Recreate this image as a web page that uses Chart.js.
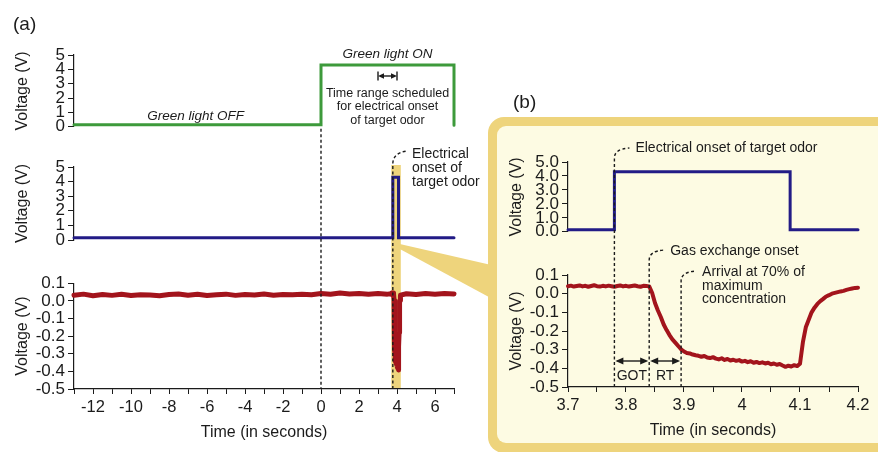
<!DOCTYPE html>
<html>
<head>
<meta charset="utf-8">
<script src="https://cdn.jsdelivr.net/npm/chart.js@4/dist/chart.umd.min.js"></script>
<style>
  body { margin: 0; background: #fff; }
  #wrap { position: relative; width: 878px; height: 452px; overflow: hidden; }
  canvas { position: absolute; }
</style>
</head>
<body>
<div id="wrap">
  <canvas id="bg" width="878" height="452" style="left:0;top:0"></canvas>
  <canvas id="cGreen" width="470" height="100" style="left:0;top:40px"></canvas>
  <canvas id="cOdor" width="470" height="130" style="left:0;top:140px"></canvas>
  <canvas id="cTrace" width="470" height="182" style="left:0;top:270px"></canvas>
  <canvas id="cZoomOdor" width="378" height="120" style="left:500px;top:125px"></canvas>
  <canvas id="cZoomTrace" width="378" height="207" style="left:500px;top:245px"></canvas>
  <canvas id="fg" width="878" height="452" style="left:0;top:0"></canvas>
</div>
<script>
// green light control signal (panel a, top)
const greenTime = [-13, 0, 0, 7, 7];
const greenVolt = [0.15, 0.15, 4.3, 4.3, 0.1];

// odor valve signal (panel a, middle)
const odorTime = [-13, 3.78, 3.78, 4.08, 4.08, 7];
const odorVolt = [0.15, 0.15, 4.3, 4.3, 0.15, 0.15];

// odor valve signal, zoomed (panel b, top)
const zoomOdorTime = [3.7, 3.78, 3.78, 4.083, 4.083, 4.2];
const zoomOdorVolt = [0.15, 0.15, 4.3, 4.3, 0.15, 0.15];

// sensor trace, zoomed window 3.7 - 4.2 s (panel b, bottom)
const zoomTime = [
  3.700, 3.705, 3.710, 3.715, 3.720, 3.725, 3.730, 3.735, 3.740, 3.745,
  3.750, 3.755, 3.760, 3.765, 3.770, 3.775, 3.780, 3.785, 3.790, 3.795,
  3.800, 3.805, 3.810, 3.815, 3.820, 3.825, 3.830, 3.835, 3.840, 3.845,
  3.850, 3.855, 3.860, 3.865, 3.870, 3.875, 3.880, 3.885, 3.890, 3.895,
  3.900, 3.905, 3.910, 3.915, 3.920, 3.925, 3.930, 3.935, 3.940, 3.945,
  3.950, 3.955, 3.960, 3.965, 3.970, 3.975, 3.980, 3.985, 3.990, 3.995,
  4.000, 4.005, 4.010, 4.015, 4.020, 4.025, 4.030, 4.035, 4.040, 4.045,
  4.050, 4.055, 4.060, 4.065, 4.070, 4.075, 4.080, 4.085, 4.090, 4.095,
  4.100, 4.105, 4.110, 4.115, 4.120, 4.125, 4.130, 4.135, 4.140, 4.145,
  4.150, 4.155, 4.160, 4.165, 4.170, 4.175, 4.180, 4.185, 4.190, 4.195,
  4.200
];
const zoomVolt = [
  0.040, 0.043, 0.038, 0.041, 0.044, 0.039, 0.042, 0.037, 0.041, 0.045,
  0.040, 0.038, 0.042, 0.039, 0.043, 0.040, 0.037, 0.041, 0.044, 0.039,
  0.042, 0.038, 0.041, 0.044, 0.040, 0.037, 0.042, 0.041, 0.039, 0.005,
  -0.050, -0.090, -0.125, -0.165, -0.195, -0.222, -0.245, -0.262, -0.280, -0.298,
  -0.310, -0.318, -0.320, -0.326, -0.330, -0.333, -0.338, -0.334, -0.342, -0.345,
  -0.340, -0.348, -0.352, -0.346, -0.355, -0.350, -0.358, -0.354, -0.360, -0.356,
  -0.364, -0.360, -0.367, -0.362, -0.370, -0.366, -0.372, -0.368, -0.374, -0.370,
  -0.378, -0.374, -0.381, -0.377, -0.385, -0.392, -0.386, -0.390, -0.383, -0.388,
  -0.375, -0.260, -0.180, -0.140, -0.100, -0.075, -0.055, -0.040, -0.028, -0.015,
  -0.008, 0.000, 0.004, 0.008, 0.012, 0.015, 0.020, 0.024, 0.028, 0.031,
  0.032
];

// sensor trace outside the zoom window (panel a, bottom)
const traceTimeBefore = [-13, -12.5, -12, -11.5, -11, -10.5, -10, -9.5, -9, -8.5, -8, -7.5,
  -7, -6.5, -6, -5.5, -5, -4.5, -4, -3.5, -3, -2.5, -2, -1.5, -1, -0.5, 0, 0.5, 1, 1.5,
  2, 2.5, 3, 3.5];
const traceVoltBefore = [0.032, 0.038, 0.029, 0.036, 0.031, 0.037, 0.030, 0.035, 0.033, 0.029,
  0.036, 0.039, 0.032, 0.037, 0.030, 0.034, 0.038, 0.031, 0.036, 0.033, 0.039, 0.032, 0.036,
  0.034, 0.038, 0.035, 0.041, 0.037, 0.044, 0.039, 0.042, 0.037, 0.041, 0.038];
const traceTimeAfter = [4.5, 5, 5.5, 6, 6.5, 7];
const traceVoltAfter = [0.040, 0.036, 0.041, 0.038, 0.042, 0.039];

// marker times
const lightOnTime = 0;
const scheduleRange = [3, 4];
const onsetTime = 3.78;
const gasOnsetTime = 3.84;
const arrivalTime = 3.895;
const zoomStart = 3.7, zoomEnd = 4.2;

const ink = '#1b1b1b';
const green = '#3d9a3b';
const navy = '#221b86';
const red = '#a3141c';
const gold = '#eed47c';
const cream = '#fdfbe3';
const font = '"Liberation Sans", Arial, sans-serif';

Chart.defaults.font.family = font;
Chart.defaults.color = ink;

function pairs(xs, ys) {
  return xs.map((x, i) => ({ x: x, y: ys[i] }));
}

function fmt1(v) {
  return (Math.abs(v) < 1e-9 ? 0 : v).toFixed(1);
}

function yAxis(min, max, step, format, width, titlePad) {
  return {
    type: 'linear', min: min, max: max,
    ticks: { stepSize: step, autoSkip: false, font: { size: 17 }, padding: 3, callback: format },
    grid: { drawOnChartArea: false, drawTicks: true, tickLength: 6, color: ink, lineWidth: 1 },
    border: { display: true, color: ink, width: 1.2 },
    title: { display: true, text: 'Voltage (V)', font: { size: 16 }, padding: { top: titlePad, bottom: 0 } },
    afterFit: s => { s.width = width; }
  };
}

function xAxis(min, max, step, format, show) {
  if (!show) return { type: 'linear', min: min, max: max, display: false };
  return {
    type: 'linear', min: min, max: max,
    ticks: { stepSize: step, autoSkip: false, maxRotation: 0, font: { size: 16.5 }, padding: 4, callback: format },
    grid: { drawOnChartArea: false, drawTicks: true, tickLength: 5, color: ink, lineWidth: 1 },
    border: { display: true, color: ink, width: 1.2 },
    title: { display: true, text: 'Time (in seconds)', font: { size: 16 }, padding: { top: 0, bottom: 2 } },
    afterFit: s => { s.height = 55; }
  };
}

function makeChart(id, data, color, width, join, x, y, padding) {
  return new Chart(document.getElementById(id), {
    type: 'line',
    data: {
      datasets: [{
        data: data,
        borderColor: color,
        borderWidth: width,
        pointRadius: 0,
        tension: 0,
        borderJoinStyle: join,
        borderCapStyle: 'round',
        clip: 8
      }]
    },
    options: {
      responsive: false,
      animation: false,
      events: [],
      layout: { padding: padding },
      plugins: { legend: { display: false }, tooltip: { enabled: false } },
      scales: { x: x, y: y }
    }
  });
}

const greenChart = makeChart('cGreen', pairs(greenTime, greenVolt), green, 3, 'miter',
  xAxis(-13, 7, 1, null, false),
  yAxis(0, 5, 1, v => String(v), 74, 13),
  { top: 15, bottom: 12, left: 0, right: 16 });

const odorChart = makeChart('cOdor', pairs(odorTime, odorVolt), navy, 3, 'miter',
  xAxis(-13, 7, 1, null, false),
  yAxis(0, 5, 1, v => String(v), 74, 13),
  { top: 27, bottom: 30, left: 0, right: 16 });

const fullTime = traceTimeBefore.concat(zoomTime, traceTimeAfter);
const fullVolt = traceVoltBefore.concat(zoomVolt, traceVoltAfter);
const traceChart = makeChart('cTrace', pairs(fullTime, fullVolt), red, 5, 'round',
  xAxis(-13, 7, 1, v => (v % 2 === 0 ? String(v) : ''), true),
  yAxis(-0.5, 0.1, 0.1, fmt1, 74, 13),
  { top: 10, bottom: 8, left: 0, right: 16 });

const zoomOdorChart = makeChart('cZoomOdor', pairs(zoomOdorTime, zoomOdorVolt), navy, 3, 'miter',
  xAxis(zoomStart, zoomEnd, 0.05, null, false),
  yAxis(0, 5, 1, fmt1, 68, 7),
  { top: 37, bottom: 10, left: 0, right: 20 });

const zoomTraceChart = makeChart('cZoomTrace', pairs(zoomTime, zoomVolt), red, 4, 'round',
  xAxis(zoomStart, zoomEnd, 0.05,
    v => (Math.abs(v * 10 - Math.round(v * 10)) < 1e-6 ? String(+v.toFixed(1)) : ''), true),
  yAxis(-0.5, 0.1, 0.1, fmt1, 68, 7),
  { top: 30, bottom: 10, left: 0, right: 20 });

// page coordinates from a chart's scales
function pageX(chart, v) { return chart.canvas.offsetLeft + chart.scales.x.getPixelForValue(v); }
function pageY(chart, v) { return chart.canvas.offsetTop + chart.scales.y.getPixelForValue(v); }
function pageBottom(chart) { return chart.canvas.offsetTop + chart.chartArea.bottom; }

// ---- background: highlight band, connector, zoom box ----
const bg = document.getElementById('bg').getContext('2d');
const bandL = pageX(odorChart, zoomStart);
const bandR = pageX(odorChart, zoomEnd);
const bandTop = pageY(odorChart, 5) - 2;
const traceBottom = pageBottom(traceChart);
bg.fillStyle = gold;
bg.fillRect(bandL, bandTop, bandR - bandL, traceBottom - bandTop);

const apexY = pageY(odorChart, 0) + 5;
bg.beginPath();
bg.moveTo(bandR - 1, apexY - 1);
bg.lineTo(500, 267);
bg.lineTo(500, 303);
bg.lineTo(bandR - 1, apexY + 4);
bg.closePath();
bg.fill();

bg.fillStyle = gold;
bg.beginPath();
bg.roundRect(488, 117, 430, 336, 16);
bg.fill();
bg.fillStyle = cream;
bg.beginPath();
bg.roundRect(497, 126, 430, 317, 9);
bg.fill();

// ---- foreground: markers, leaders and labels ----
const fg = document.getElementById('fg').getContext('2d');
fg.strokeStyle = ink;
fg.fillStyle = ink;

function dashed(path) {
  fg.save();
  fg.setLineDash([3, 2.5]);
  fg.lineWidth = 1.4;
  fg.beginPath();
  path();
  fg.stroke();
  fg.restore();
}

function leader(x, yBottom, yTop) {
  dashed(() => {
    fg.moveTo(x, yBottom);
    fg.lineTo(x, yTop);
    fg.quadraticCurveTo(x, yTop - 9, x + 15, yTop - 10);
  });
}

function arrowHead(x, y, dir, len) {
  fg.beginPath();
  fg.moveTo(x, y);
  fg.lineTo(x + dir * len, y - len * 0.45);
  fg.lineTo(x + dir * len, y + len * 0.45);
  fg.closePath();
  fg.fill();
}

function dblArrow(x1, x2, y, len, bars) {
  fg.save();
  fg.lineWidth = 1.4;
  fg.beginPath();
  fg.moveTo(x1 + 2, y);
  fg.lineTo(x2 - 2, y);
  fg.stroke();
  arrowHead(x1, y, 1, len);
  arrowHead(x2, y, -1, len);
  if (bars) {
    fg.beginPath();
    fg.moveTo(x1, y - 4.5); fg.lineTo(x1, y + 4.5);
    fg.moveTo(x2, y - 4.5); fg.lineTo(x2, y + 4.5);
    fg.stroke();
  }
  fg.restore();
}

function text(str, x, y, size, style, align) {
  fg.font = (style || '') + ' ' + size + 'px ' + font;
  fg.textAlign = align || 'left';
  fg.textBaseline = 'alphabetic';
  fg.fillText(str, x, y);
}

// panel a
const x0 = pageX(traceChart, lightOnTime);
dashed(() => { fg.moveTo(x0, pageBottom(greenChart) + 2); fg.lineTo(x0, traceBottom); });
const xOnA = pageX(traceChart, onsetTime);
dashed(() => {
  fg.moveTo(xOnA, traceBottom);
  fg.lineTo(xOnA, 164);
  fg.quadraticCurveTo(xOnA, 153, xOnA + 14, 151);
});
text('Electrical', 412, 158, 14);
text('onset of', 412, 172, 14);
text('target odor', 412, 186, 14);

text('(a)', 13, 30, 19);
text('Green light OFF', pageX(greenChart, -6.6), 119.5, 13.5, 'italic', 'center');
text('Green light ON', pageX(greenChart, 3.5), 58, 13.5, 'italic', 'center');
dblArrow(pageX(greenChart, scheduleRange[0]), pageX(greenChart, scheduleRange[1]), 76, 6, true);
const xSched = pageX(greenChart, 3.5);
text('Time range scheduled', xSched, 96.5, 12.5, '', 'center');
text('for electrical onset', xSched, 110, 12.5, '', 'center');
text('of target odor', xSched, 123.5, 12.5, '', 'center');

// panel b
text('(b)', 513, 108, 19);
const zb = pageBottom(zoomTraceChart);
const xOnB = pageX(zoomTraceChart, onsetTime);
const xGas = pageX(zoomTraceChart, gasOnsetTime);
const xArr = pageX(zoomTraceChart, arrivalTime);
leader(xOnB, zb, 158);
leader(xGas, zb, 260);
leader(xArr, zb, 281);
text('Electrical onset of target odor', xOnB + 21, 152, 14);
text('Gas exchange onset', xGas + 21, 255, 14);
text('Arrival at 70% of', xArr + 21, 276, 14);
text('maximum', xArr + 21, 289.5, 14);
text('concentration', xArr + 21, 303, 14);

dblArrow(xOnB + 1, xGas - 1, 361, 8, false);
dblArrow(xGas + 1, xArr - 1, 361, 8, false);
text('GOT', (xOnB + xGas) / 2, 380, 14, '', 'center');
text('RT', (xGas + xArr) / 2, 380, 14, '', 'center');
</script>
</body>
</html>
